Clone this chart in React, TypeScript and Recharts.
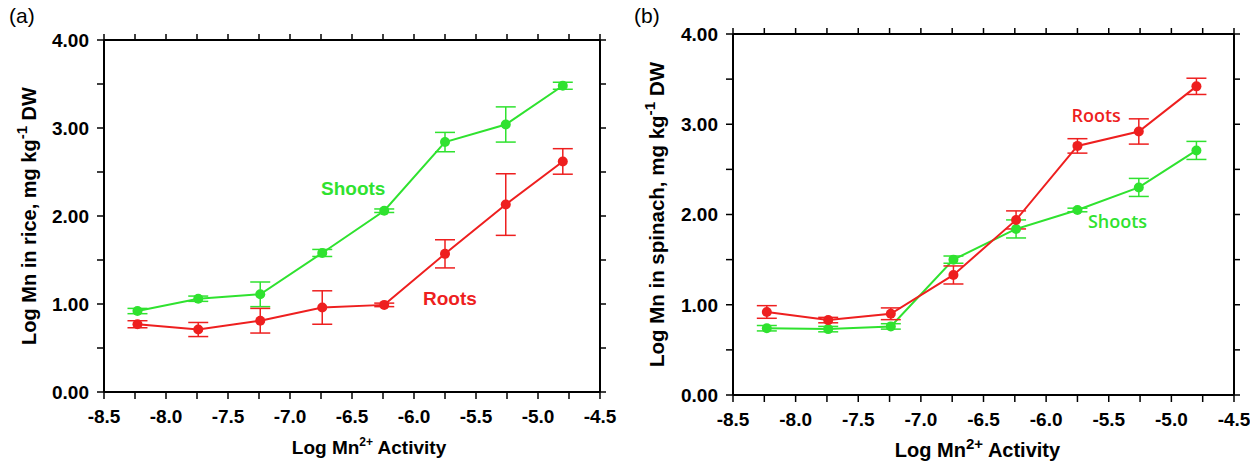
import React from "react";
import { LineChart, Line, XAxis, YAxis, ErrorBar, ReferenceDot, Label } from "recharts";

// Log Mn2+ activity (x) shared by both panels
const activity = [-8.23, -7.74, -7.24, -6.74, -6.24, -5.75, -5.26, -4.8];

// (a) rice
const riceShoots = [0.92, 1.06, 1.11, 1.58, 2.06, 2.84, 3.04, 3.48];
const riceShootsErr = [0.03, 0.03, 0.14, 0.04, 0.02, 0.11, 0.2, 0.04];
const riceRoots = [0.77, 0.71, 0.81, 0.96, 0.99, 1.57, 2.13, 2.62];
const riceRootsErr = [0.04, 0.08, 0.14, 0.19, 0.02, 0.16, 0.35, 0.145];

// (b) spinach
const spinachRoots = [0.92, 0.83, 0.9, 1.33, 1.94, 2.76, 2.92, 3.42];
const spinachRootsErr = [0.07, 0.03, 0.065, 0.1, 0.1, 0.08, 0.14, 0.09];
const spinachShoots = [0.74, 0.73, 0.76, 1.5, 1.84, 2.05, 2.3, 2.71];
const spinachShootsErr = [0.03, 0.03, 0.03, 0.04, 0.1, 0.02, 0.1, 0.1];

const xTicks = [-8.5, -8.25, -8, -7.75, -7.5, -7.25, -7, -6.75, -6.5, -6.25, -6, -5.75, -5.5, -5.25, -5, -4.75, -4.5];
const yTicks = [0, 0.5, 1, 1.5, 2, 2.5, 3, 3.5, 4];

// annotation anchors (data coords)
const riceNotes = [
  { text: "Shoots", x: -6.49, y: 2.31, color: "green" },
  { text: "Roots", x: -5.71, y: 1.06, color: "red" },
];
const spinachNotes = [
  { text: "Roots", x: -5.6, y: 3.1, color: "red" },
  { text: "Shoots", x: -5.43, y: 1.92, color: "green" },
];

const GREEN = "#2fe22f";
const RED = "#ee1f1f";
const FONT = '"Liberation Sans", Arial, sans-serif';

const build = (ys: number[], yErr: number[], rs: number[], rErr: number[]) =>
  activity.map((x, i) => ({ x, shoots: ys[i], shootsErr: yErr[i], roots: rs[i], rootsErr: rErr[i] }));

const axisLine = { stroke: "#000", strokeWidth: 2 };
const tickLine = { stroke: "#000", strokeWidth: 1.5 };

// tick labels drawn by hand so the font is exactly what we want
const XTick = ({ x, y, payload }: any) => {
  const v = payload.value;
  if (!Number.isInteger(v * 2)) return null;
  return (
    <text x={x} y={y} dy="0.75em" textAnchor="middle" fontFamily={FONT} fontWeight="bold" fontSize={19} fill="#000">
      {v.toFixed(1)}
    </text>
  );
};
const YTick = ({ x, y, payload }: any) => {
  const v = payload.value;
  if (!Number.isInteger(v)) return null;
  return (
    <text x={x} y={y} dy="0.36em" textAnchor="end" fontFamily={FONT} fontWeight="bold" fontSize={19} fill="#000">
      {v.toFixed(2)}
    </text>
  );
};

function Panel({
  data, notes, left, margin, yAxisW, xAxisH, tag, crop, supSize, titleSize, titleDx, yTitleX, yTitleSize, noteFont,
}: any) {
  return (
    <div style={{ position: "absolute", left, top: 0, width: 625, height: 465 }}>
      <div style={{ position: "absolute", left: 9, top: 4, fontSize: 21, fontFamily: FONT }}>{tag}</div>
      <LineChart width={625} height={465} data={data} margin={margin}>
        <XAxis
          xAxisId="b" dataKey="x" type="number" domain={[-8.5, -4.5]} ticks={xTicks}
          interval={0} height={xAxisH} tickSize={7} tickMargin={10}
          axisLine={axisLine} tickLine={tickLine} tick={<XTick />}
        >
          <Label
            content={({ viewBox }: any) => {
              const cx = viewBox.x + viewBox.width / 2 + titleDx;
              return (
                <text x={cx} y={viewBox.y + 62} textAnchor="middle" fontFamily={FONT} fontWeight="bold" fontSize={titleSize} fill="#000">
                  <tspan>Log Mn</tspan>
                  <tspan dy={-8} fontSize={supSize}>2+</tspan>
                  <tspan dy={8}> Activity</tspan>
                </text>
              );
            }}
          />
        </XAxis>
        <XAxis
          xAxisId="t" orientation="top" dataKey="x" type="number" domain={[-8.5, -4.5]} ticks={xTicks}
          tickFormatter={() => ""} interval={0} height={8} tickSize={6}
          axisLine={axisLine} tickLine={tickLine}
        />
        <YAxis
          yAxisId="l" type="number" domain={[0, 4]} ticks={yTicks} interval={0}
          width={yAxisW} tickSize={7} tickMargin={8}
          axisLine={axisLine} tickLine={tickLine} tick={<YTick />}
        >
          <Label
            content={({ viewBox }: any) => {
              const cx = viewBox.x + yTitleX;
              const cy = viewBox.y + viewBox.height / 2;
              return (
                <text x={cx} y={cy} transform={`rotate(-90, ${cx}, ${cy})`} textAnchor="middle" fontFamily={FONT} fontWeight="bold" fontSize={yTitleSize} fill="#000">
                  <tspan>{`Log Mn in ${crop}, mg kg`}</tspan>
                  <tspan dy={-9} fontSize={yTitleSize * 0.75}>-1</tspan>
                  <tspan dy={9}> DW</tspan>
                </text>
              );
            }}
          />
        </YAxis>
        <YAxis
          yAxisId="r" orientation="right" type="number" domain={[0, 4]} ticks={yTicks} tickFormatter={() => ""}
          interval={0} width={8} tickSize={6}
          axisLine={axisLine} tickLine={tickLine}
        />
        {/* invisible series to bind the frame axes */}
        <Line xAxisId="t" yAxisId="r" dataKey="shoots" stroke="none" dot={false} activeDot={false} isAnimationActive={false} />
        <Line
          xAxisId="b" yAxisId="l" dataKey="shoots" stroke={GREEN} strokeWidth={2}
          dot={{ r: 5, fill: GREEN, stroke: GREEN, strokeWidth: 0 }} isAnimationActive={false}
        >
          <ErrorBar dataKey="shootsErr" width={10} stroke={GREEN} strokeWidth={1.5} direction="y" />
        </Line>
        <Line
          xAxisId="b" yAxisId="l" dataKey="roots" stroke={RED} strokeWidth={2}
          dot={{ r: 5, fill: RED, stroke: RED, strokeWidth: 0 }} isAnimationActive={false}
        >
          <ErrorBar dataKey="rootsErr" width={10} stroke={RED} strokeWidth={1.5} direction="y" />
        </Line>
        {notes.map((n: any) => (
          <ReferenceDot
            key={n.text} xAxisId="b" yAxisId="l" x={n.x} y={n.y} r={0} stroke="none" fill="none"
            label={{
              value: n.text, position: "center", fill: n.color === "green" ? GREEN : RED,
              fontSize: noteFont.size, fontWeight: noteFont.weight, fontFamily: noteFont.family,
            }}
          />
        ))}
      </LineChart>
    </div>
  );
}

export default function App() {
  return (
    <div style={{ position: "absolute", left: 0, top: 0, width: 1250, height: 465, background: "#fff" }}>
      <Panel
        data={build(riceShoots, riceShootsErr, riceRoots, riceRootsErr)}
        notes={riceNotes} left={0} tag="(a)" crop="rice"
        margin={{ top: 32, right: 17, bottom: 0, left: 0 }} yAxisW={104} xAxisH={73}
        supSize={12} titleSize={19} titleDx={17} yTitleX={36} yTitleSize={20}
        noteFont={{ size: 19, weight: "bold", family: FONT }}
      />
      <Panel
        data={build(spinachShoots, spinachShootsErr, spinachRoots, spinachRootsErr)}
        notes={spinachNotes} left={625} tag="(b)" crop="spinach"
        margin={{ top: 26, right: 8, bottom: 0, left: 0 }} yAxisW={108} xAxisH={70}
        supSize={15} titleSize={20} titleDx={-6} yTitleX={39} yTitleSize={20.5}
        noteFont={{ size: 18, weight: 600, family: '"Open Sans", "Noto Sans", sans-serif' }}
      />
    </div>
  );
}
